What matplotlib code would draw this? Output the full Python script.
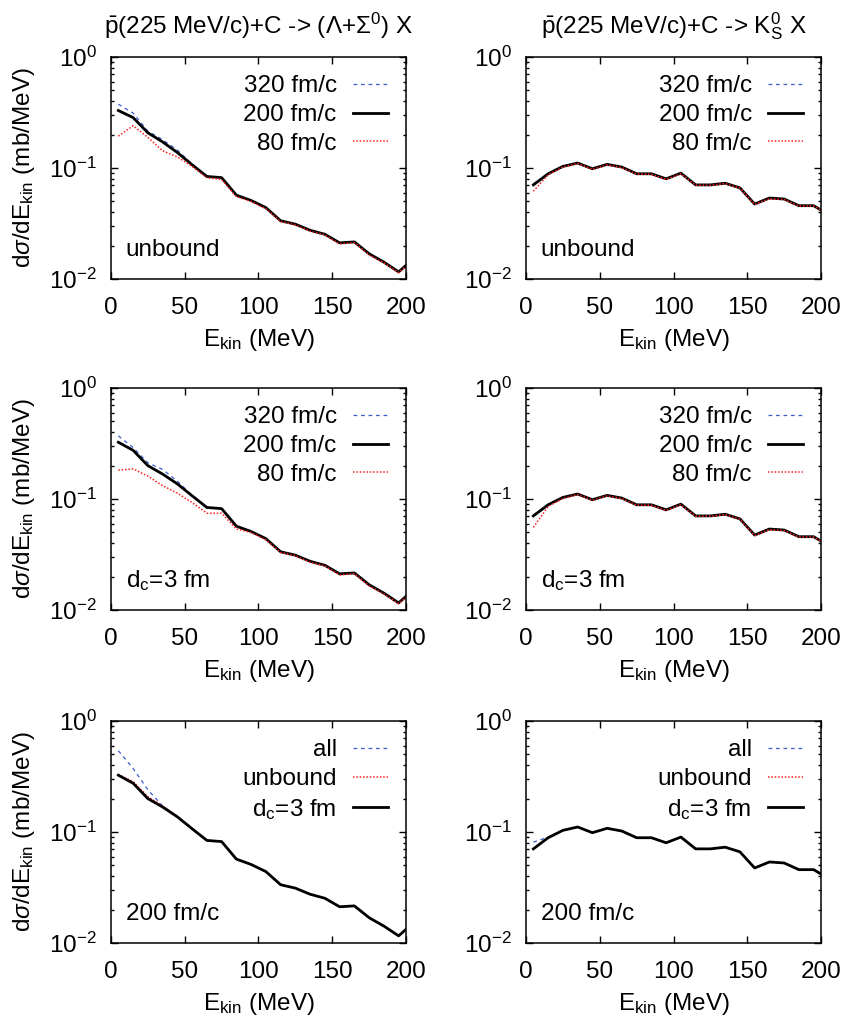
import matplotlib
matplotlib.use('Agg')
import matplotlib.pyplot as plt
from matplotlib.ticker import LogLocator, NullFormatter, FixedLocator

plt.rcParams['font.family'] = ['Liberation Sans', 'DejaVu Sans']
plt.rcParams['mathtext.fontset'] = 'custom'
plt.rcParams['mathtext.rm'] = 'Liberation Sans'
plt.rcParams['mathtext.it'] = 'Liberation Sans:italic'
plt.rcParams['mathtext.bf'] = 'Liberation Sans:bold'
plt.rcParams['font.size'] = 17.5

# kinetic energy bin centres (MeV)
E = [5, 15, 25, 35, 45, 55, 65, 75, 85, 95, 105, 115, 125, 135, 145, 155,
     165, 175, 185, 195, 205]

# (Lambda + Sigma0) spectra, mb/MeV
lam_200_unb = [0.330, 0.285, 0.208, 0.172, 0.138, 0.107, 0.084, 0.082, 0.057,
               0.051, 0.044, 0.0335, 0.0312, 0.0275, 0.0253, 0.0212, 0.0216,
               0.0169, 0.0142, 0.0116, 0.0152]
lam_320_unb = [0.376, 0.313, 0.215, 0.180, 0.145, 0.109, 0.085, 0.082, 0.057,
               0.051, 0.044, 0.0335, 0.0312, 0.0275, 0.0253, 0.0212, 0.0216,
               0.0169, 0.0142, 0.0116, 0.0152]
lam_80_unb = [0.194, 0.241, 0.189, 0.143, 0.126, 0.1035, 0.0817, 0.0789, 0.0552,
              0.050, 0.043, 0.0330, 0.0308, 0.0270, 0.0250, 0.0207, 0.0213,
              0.0165, 0.0140, 0.0114, 0.0150]
lam_200_dc = [0.325, 0.275, 0.200, 0.168, 0.137, 0.107, 0.084, 0.082, 0.057,
              0.051, 0.044, 0.0335, 0.0312, 0.0275, 0.0253, 0.0212, 0.0216,
              0.0169, 0.0142, 0.0116, 0.0152]
lam_320_dc = [0.371, 0.291, 0.212, 0.185, 0.145, 0.108, 0.085, 0.082, 0.057,
              0.051, 0.044, 0.0335, 0.0312, 0.0275, 0.0253, 0.0212, 0.0216,
              0.0169, 0.0142, 0.0116, 0.0152]
lam_80_dc = [0.182, 0.187, 0.161, 0.132, 0.113, 0.093, 0.0746, 0.0746, 0.0537,
             0.050, 0.043, 0.0330, 0.0308, 0.0270, 0.0250, 0.0207, 0.0213,
             0.0165, 0.0140, 0.0114, 0.0150]
lam_all = [0.54, 0.374, 0.24, 0.172, 0.138, 0.107, 0.084, 0.082, 0.057,
           0.051, 0.044, 0.0335, 0.0312, 0.0275, 0.0253, 0.0212, 0.0216,
           0.0169, 0.0142, 0.0116, 0.0152]

# K0_S spectra, mb/MeV
k0_200 = [0.0705, 0.0888, 0.1035, 0.111, 0.0986, 0.108, 0.102, 0.0888, 0.0888,
          0.080, 0.090, 0.0705, 0.0705, 0.073, 0.0663, 0.0474, 0.0537, 0.0526,
          0.0458, 0.0458, 0.0382]
k0_320_unb = [0.072, 0.089, 0.1035, 0.111, 0.0986, 0.108, 0.102, 0.0888, 0.0888,
              0.080, 0.090, 0.0705, 0.0705, 0.073, 0.0663, 0.0474, 0.0537, 0.0526,
              0.0458, 0.0458, 0.0382]
k0_80_unb = [0.0618, 0.087, 0.102, 0.110, 0.0975, 0.107, 0.101, 0.088, 0.088,
             0.079, 0.089, 0.070, 0.070, 0.0725, 0.066, 0.047, 0.053, 0.052,
             0.0455, 0.0455, 0.0382]
k0_80_dc = [0.0556, 0.0858, 0.101, 0.110, 0.0975, 0.107, 0.101, 0.088, 0.088,
            0.079, 0.089, 0.070, 0.070, 0.0725, 0.066, 0.047, 0.053, 0.052,
            0.0455, 0.0455, 0.0382]
k0_all = [0.081, 0.090, 0.1035, 0.111, 0.0986, 0.108, 0.102, 0.0888, 0.0888,
          0.080, 0.090, 0.0705, 0.0705, 0.073, 0.0663, 0.0474, 0.0537, 0.0526,
          0.0458, 0.0458, 0.0382]

xticks = [0, 50, 100, 150, 200]

BLUE = '#3a5bd0'
RED = '#ff2020'
sty_blue = dict(color=BLUE, lw=0.9, ls=(0, (3, 3)))
sty_black = dict(color='black', lw=2.0, ls='-')
sty_red = dict(color=RED, lw=1.1, ls=(0, (1.0, 1.2)))

fig = plt.figure(figsize=(8.42, 10.21), dpi=100)

lefts = [0.1318, 0.6247]
bottoms = [0.7267, 0.4025, 0.0764]
w, h = 0.3504, 0.2174

panels = [
    # (row, col, [(y, label, style)], annotation)
    (0, 0, [(lam_320_unb, '320 fm/c', sty_blue), (lam_200_unb, '200 fm/c', sty_black),
            (lam_80_unb, '80 fm/c', sty_red)], 'unbound'),
    (0, 1, [(k0_320_unb, '320 fm/c', sty_blue), (k0_200, '200 fm/c', sty_black),
            (k0_80_unb, '80 fm/c', sty_red)], 'unbound'),
    (1, 0, [(lam_320_dc, '320 fm/c', sty_blue), (lam_200_dc, '200 fm/c', sty_black),
            (lam_80_dc, '80 fm/c', sty_red)], r'd$_{\rm c}$=3 fm'),
    (1, 1, [(k0_320_unb, '320 fm/c', sty_blue), (k0_200, '200 fm/c', sty_black),
            (k0_80_dc, '80 fm/c', sty_red)], r'd$_{\rm c}$=3 fm'),
    (2, 0, [(lam_all, 'all', sty_blue), (lam_200_unb, 'unbound', sty_red),
            (lam_200_dc, r'd$_{\rm c}$=3 fm', sty_black)], '200 fm/c'),
    (2, 1, [(k0_all, 'all', sty_blue), (k0_200, 'unbound', sty_red),
            (k0_200, r'd$_{\rm c}$=3 fm', sty_black)], '200 fm/c'),
]

titles = [r'$\bar{\rm p}$(225 MeV/c)+C -> ($\Lambda$+$\Sigma^0$) X',
          r'$\bar{\rm p}$(225 MeV/c)+C -> K$^0_{\rm S}$ X']

for row, col, series, note in panels:
    ax = fig.add_axes([lefts[col], bottoms[row], w, h])
    for y, lab, st in series:
        ax.plot(E, y, label=lab, **st)
    ax.set_yscale('log')
    ax.set_xlim(0, 200)
    ax.set_ylim(0.01, 1)
    ax.xaxis.set_major_locator(FixedLocator(xticks))
    ax.yaxis.set_major_locator(LogLocator(base=10))
    ax.yaxis.set_minor_locator(LogLocator(base=10, subs=range(2, 10)))
    ax.yaxis.set_minor_formatter(NullFormatter())
    ax.tick_params(which='both', direction='in', top=True, right=True, width=1.0)
    ax.tick_params(which='major', length=5)
    ax.tick_params(axis='y', which='major', pad=10)
    ax.tick_params(axis='x', which='major', pad=13)
    ax.tick_params(which='minor', length=2.5)
    for sp in ax.spines.values():
        sp.set_linewidth(1.1)
    ax.set_xlabel(r'E$_{\rm kin}$ (MeV)', labelpad=6)
    if col == 0:
        ax.set_ylabel(r'd$\sigma$/dE$_{\rm kin}$ (mb/MeV)')
        ax.yaxis.set_label_coords(-0.25, 0.5)
    if row == 0:
        ax.set_title(titles[col], pad=17, fontsize=17.5)
    ax.text(0.05, 0.105, note, transform=ax.transAxes, ha='left', va='baseline')
    ax.legend(loc='upper right', frameon=False, markerfirst=False,
              handlelength=1.45, handletextpad=0.65, labelspacing=0.28,
              borderaxespad=0.4, borderpad=0.35)

fig.savefig('out.png', dpi=100)
